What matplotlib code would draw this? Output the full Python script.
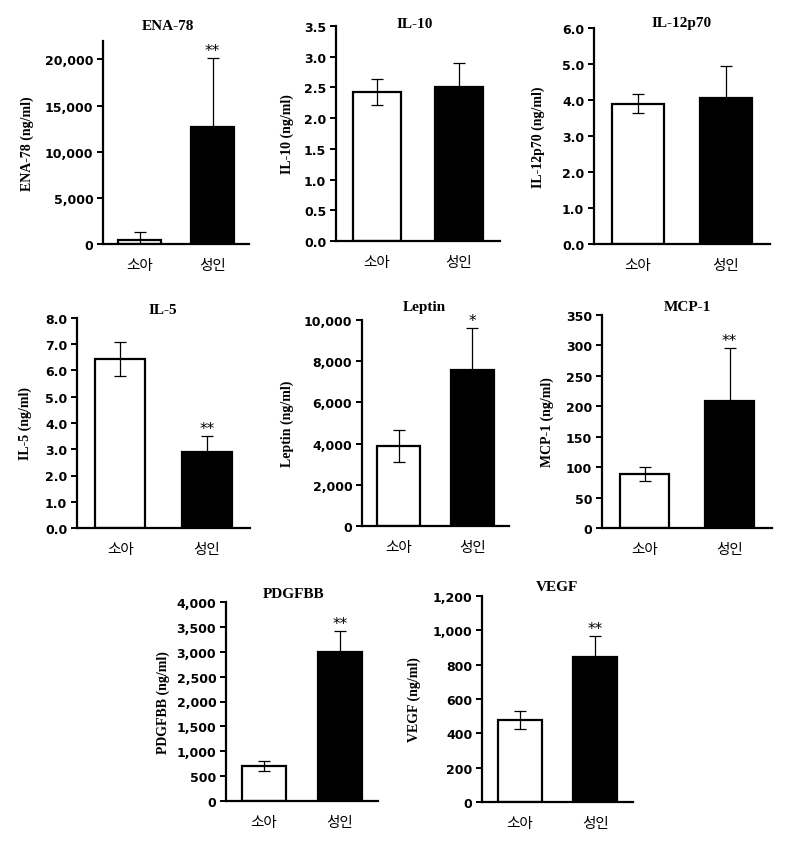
import matplotlib
matplotlib.use("Agg")
import matplotlib.pyplot as plt
from matplotlib.ticker import FuncFormatter
import numpy as np

# ==========================
# DATOS
# ==========================

grupos = ["소아", "성인"]

paneles = ["ENA-78", "IL-10", "IL-12p70", "IL-5", "Leptin", "MCP-1", "PDGFBB", "VEGF"]

media_nino = [380, 2.42, 3.90, 6.45, 3880, 89, 700, 478]
media_adulto = [12650, 2.50, 4.05, 2.90, 7570, 208, 3000, 845]

error_nino = [900, 0.21, 0.27, 0.65, 770, 12, 105, 52]
error_adulto = [7500, 0.39, 0.90, 0.60, 2020, 87, 415, 120]

signif = ["**", "", "", "**", "*", "**", "**", "**"]

y_max = [22000, 3.5, 6.0, 8.0, 10000, 350, 4000, 1200]
y_paso = [5000, 0.5, 1.0, 1.0, 2000, 50, 500, 200]
y_fmt = ["coma", "dec", "dec", "dec", "coma", "int", "coma", "coma"]

# ==========================
# DISPOSICION (pixeles)
# x0, x1, y_arriba, y_abajo, titulo_x, titulo_y, etiqueta_x
# ==========================

W, H = 790, 845

cajas = [
    (103, 249, 42, 245, 168, 26, 27),
    (336, 500, 27, 242, 415, 25, 287),
    (594, 770, 29, 245, 682, 23, 538),
    (77, 250, 319, 529, 163, 310, 25),
    (362, 509, 321, 527, 424, 307, 287),
    (602, 772, 316, 529, 687, 308, 547),
    (226, 378, 603, 802, 294, 595, 163),
    (482, 633, 597, 803, 557, 588, 414),
]

def formato(tipo):
    if tipo == "coma":
        return FuncFormatter(lambda v, p: f"{v:,.0f}")
    if tipo == "dec":
        return FuncFormatter(lambda v, p: f"{v:.1f}")
    return FuncFormatter(lambda v, p: f"{v:.0f}")

# ==========================
# DIBUJAR
# ==========================

fig = plt.figure(figsize=(W / 100, H / 100), dpi=100)

for i, nombre in enumerate(paneles):

    x0, x1, ya, yb, tx, ty, lx = cajas[i]

    ax = fig.add_axes([
        x0 / W,
        1 - yb / H,
        (x1 - x0) / W,
        (yb - ya) / H
    ])

    pos = np.arange(len(grupos))
    medias = [media_nino[i], media_adulto[i]]
    errores = [error_nino[i], error_adulto[i]]

    ax.bar(
        pos,
        medias,
        width=0.58,
        color=["white", "black"],
        edgecolor="black",
        linewidth=1.6,
        zorder=2
    )

    ax.errorbar(
        pos,
        medias,
        yerr=errores,
        fmt="none",
        ecolor="black",
        elinewidth=0.9,
        capsize=4,
        capthick=0.9,
        zorder=3
    )

    if signif[i]:
        ax.annotate(
            signif[i],
            (pos[1], medias[1] + errores[1]),
            xytext=(0, 0),
            textcoords="offset points",
            ha="center",
            va="bottom",
            fontsize=11
        )

    ax.set_xlim(-0.5, 1.5)
    ax.set_ylim(0, y_max[i])
    ax.set_yticks(np.arange(0, y_max[i] + y_paso[i] / 2, y_paso[i]))
    ax.yaxis.set_major_formatter(formato(y_fmt[i]))

    ax.set_xticks(pos)
    ax.set_xticklabels(grupos, family=["Noto Sans CJK KR", "DejaVu Sans"], fontsize=10.5)

    ax.spines["top"].set_visible(False)
    ax.spines["right"].set_visible(False)
    ax.spines["left"].set_linewidth(1.6)
    ax.spines["bottom"].set_linewidth(1.6)

    ax.tick_params(axis="x", length=0, pad=10)
    ax.tick_params(axis="y", direction="out", length=4, width=1.4, pad=3)
    for t in ax.get_yticklabels():
        t.set_fontweight("bold")
        t.set_fontsize(9)

    fig.text(
        tx / W,
        1 - ty / H,
        nombre,
        ha="center",
        va="center",
        family="Liberation Serif",
        fontweight="bold",
        fontsize=11
    )

    fig.text(
        lx / W,
        1 - (ya + yb) / 2 / H,
        nombre + " (ng/ml)",
        ha="center",
        va="center",
        rotation=90,
        family="Liberation Serif",
        fontweight="bold",
        fontsize=10
    )

fig.savefig("out.png", dpi=100, facecolor="white")
